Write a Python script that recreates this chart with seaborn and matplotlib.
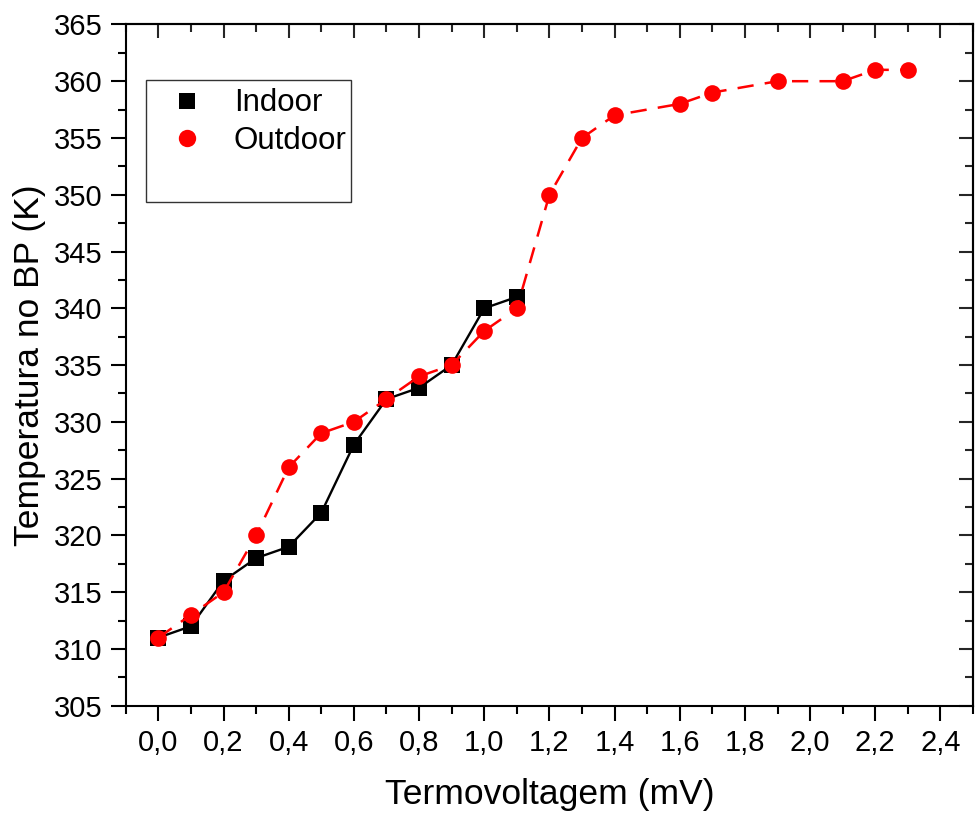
import matplotlib
matplotlib.use("Agg")
import matplotlib.pyplot as plt
from matplotlib.patches import Rectangle
from matplotlib.lines import Line2D
from matplotlib.ticker import MultipleLocator, FuncFormatter
import seaborn as sns
import pandas as pd

# Indoor measurements
indoor_mv = [0.0, 0.1, 0.2, 0.3, 0.4, 0.5, 0.6, 0.7, 0.8, 0.9, 1.0, 1.1]
indoor_k = [311, 312, 316, 318, 319, 322, 328, 332, 333, 335, 340, 341]

# Outdoor measurements
outdoor_mv = [0.0, 0.1, 0.2, 0.3, 0.4, 0.5, 0.6, 0.7, 0.8, 0.9, 1.0, 1.1,
              1.2, 1.3, 1.4, 1.6, 1.7, 1.9, 2.1, 2.2, 2.3]
outdoor_k = [311, 313, 315, 320, 326, 329, 330, 332, 334, 335, 338, 340,
             350, 355, 357, 358, 359, 360, 360, 361, 361]

sns.set_theme(style="white")
plt.rcParams["font.family"] = ["Liberation Sans", "DejaVu Sans"]
plt.rcParams["text.color"] = "black"

fig = plt.figure(figsize=(9.75, 8.14), dpi=100)
ax = fig.add_axes([0.129, 0.133, 0.869, 0.837])

df_in = pd.DataFrame({"mv": indoor_mv, "k": indoor_k})
df_out = pd.DataFrame({"mv": outdoor_mv, "k": outdoor_k})

sns.lineplot(data=df_in, x="mv", y="k", ax=ax, color="black", linewidth=1.7,
             marker="s", markersize=11, markeredgewidth=0)
sns.lineplot(data=df_out, x="mv", y="k", ax=ax, color="red", linewidth=1.8,
             linestyle=(0, (6.5, 4.5)), marker="o", markersize=12,
             markeredgewidth=0)

ax.set_xlim(-0.1, 2.5)
ax.set_ylim(305, 365)

ax.xaxis.set_major_locator(MultipleLocator(0.2))
ax.xaxis.set_minor_locator(MultipleLocator(0.1))
ax.yaxis.set_major_locator(MultipleLocator(5))
ax.yaxis.set_minor_locator(MultipleLocator(2.5))
ax.xaxis.set_major_formatter(FuncFormatter(lambda v, p: f"{v:.1f}".replace(".", ",").replace("-0,0", "0,0")))
ax.yaxis.set_major_formatter(FuncFormatter(lambda v, p: f"{v:.0f}"))

for side in ["left", "right", "top", "bottom"]:
    ax.spines[side].set_visible(True)
    ax.spines[side].set_color("black")
    ax.spines[side].set_linewidth(1.5)

# outward ticks on bottom/left, inward on top/right
ax.tick_params(axis="both", which="major", direction="out", length=11, width=1.5,
               labelsize=21, colors="black", pad=6)
ax.tick_params(axis="both", which="minor", direction="out", length=6, width=1.5,
               colors="black")
ax.tick_params(which="both", bottom=True, left=True)

ax_top = ax.secondary_xaxis("top")
ax_top.xaxis.set_major_locator(MultipleLocator(0.2))
ax_top.xaxis.set_minor_locator(MultipleLocator(0.1))
ax_top.tick_params(which="major", direction="in", length=10, width=1.5, labeltop=False)
ax_top.tick_params(which="minor", direction="in", length=5.5, width=1.5)
ax_top.spines["top"].set_linewidth(1.5)

ax_right = ax.secondary_yaxis("right")
ax_right.yaxis.set_major_locator(MultipleLocator(5))
ax_right.yaxis.set_minor_locator(MultipleLocator(2.5))
ax_right.tick_params(which="major", direction="in", length=10, width=1.5, labelright=False)
ax_right.tick_params(which="minor", direction="in", length=5.5, width=1.5)
ax_right.spines["right"].set_linewidth(1.5)

ax.set_xlabel("Termovoltagem (mV)", fontsize=25.5, color="black", labelpad=15)
ax.set_ylabel("Temperatura no BP (K)", fontsize=25.5, color="black", labelpad=5)

# legend with markers only, inside a framed box
handles = [
    Line2D([], [], linestyle="none", marker="s", color="black", markersize=11.5,
           markeredgewidth=0),
    Line2D([], [], linestyle="none", marker="o", color="red", markersize=12.5,
           markeredgewidth=0),
]
labels = ["Indoor", "Outdoor"]
ax.legend(handles, labels, loc="upper left", bbox_to_anchor=(0.0536, 0.906),
          frameon=False, fontsize=22.5, handlelength=1.0, handletextpad=1.0,
          labelspacing=0.25, borderpad=0, borderaxespad=0)
ax.add_patch(Rectangle((0.0236, 0.739), 0.242, 0.180, transform=ax.transAxes,
                       fill=False, edgecolor="#333333", linewidth=1.0, zorder=5))

fig.savefig("out.png", dpi=100)
